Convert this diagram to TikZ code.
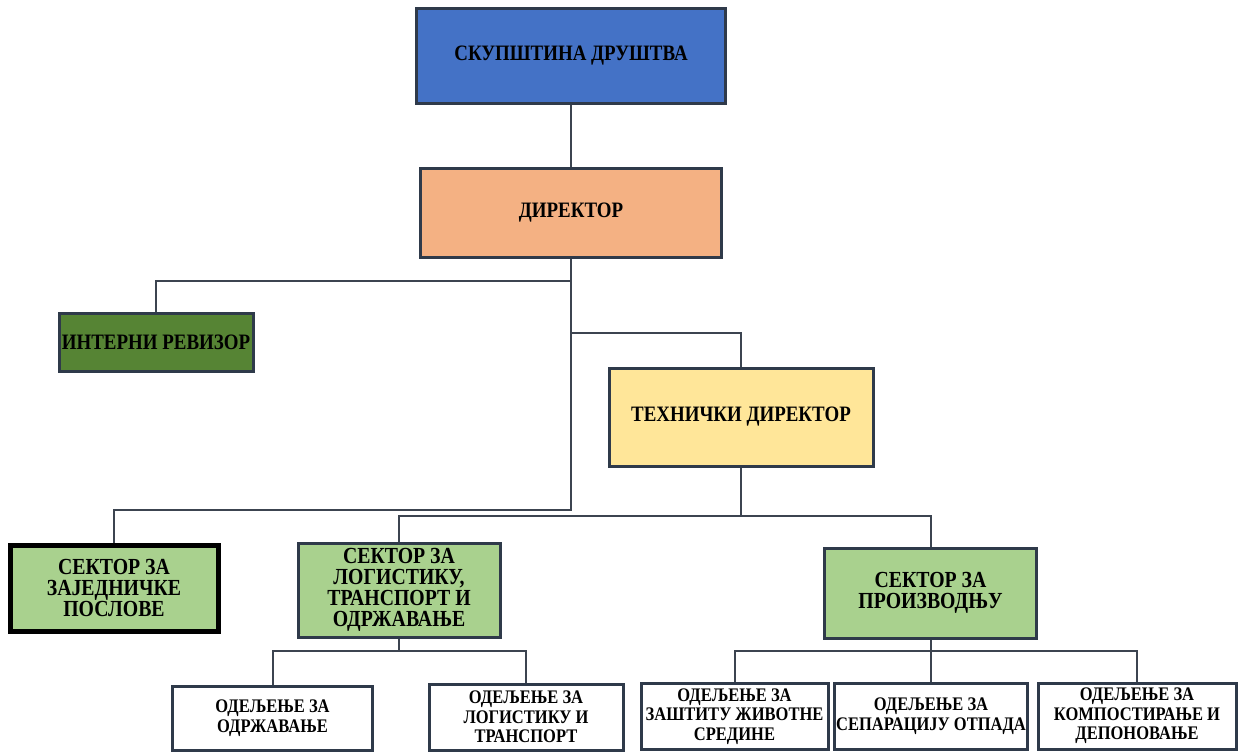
\documentclass[tikz,border=0pt]{standalone}
\usepackage{fontspec}
\setmainfont{Liberation Serif}[FakeStretch=0.86]
\usepackage{tikz}
\usetikzlibrary{%
  positioning,% wg. " of "
  calc%
}
\definecolor{frame}{RGB}{47,58,74}
\definecolor{linkc}{RGB}{60,68,80}
\definecolor{skblue}{RGB}{68,114,198}
\definecolor{dirorange}{RGB}{244,177,131}
\definecolor{revgreen}{RGB}{86,132,52}
\definecolor{tehyellow}{RGB}{255,230,153}
\definecolor{secgreen}{RGB}{169,209,142}

\begin{document}
\begin{tikzpicture}[
  x=0.5pt,y=-0.5pt,
  font=\fontsize{11}{11}\selectfont\bfseries,
  box/.style={draw=frame,line width=1.5pt,align=center,inner sep=1pt},
  sector/.style={box,fill=secgreen,font=\fontsize{11.5}{10.4}\selectfont\bfseries},
  dept/.style={box,fill=white,font=\fontsize{9.6}{9.8}\selectfont\bfseries},
  link/.style={draw=linkc,line width=1pt},
]
\useasboundingbox (0,0) rectangle (1238,751);

% upper levels
\node[box,fill=skblue,minimum width=154.5pt,minimum height=47.5pt] (sk) at (571,55.5) {СКУПШТИНА ДРУШТВА};
\node[box,fill=dirorange,minimum width=150.5pt,minimum height=44.5pt] (dir) at (571,212.5) {ДИРЕКТОР};
\node[box,fill=revgreen,minimum width=97pt,minimum height=29pt] (rev) at (156,342.5) {ИНТЕРНИ РЕВИЗОР};
\node[box,fill=tehyellow,minimum width=132pt,minimum height=49pt] (teh) at (741,417) {ТЕХНИЧКИ ДИРЕКТОР};

% sectors
\node[sector,draw=black,line width=2.5pt,minimum width=104pt,minimum height=43pt] (zaj) at (114,588) {СЕКТОР ЗА\\ЗАЈЕДНИЧКЕ\\ПОСЛОВЕ};
\node[sector,minimum width=101pt,minimum height=47pt] (log) at (399,590) {СЕКТОР ЗА\\ЛОГИСТИКУ,\\ТРАНСПОРТ И\\ОДРЖАВАЊЕ};
\node[sector,minimum width=106pt,minimum height=45pt] (pro) at (930.5,593) {СЕКТОР ЗА\\ПРОИЗВОДЊУ};

% departments
\node[dept,minimum width=100pt,minimum height=32pt] (odr) at (272.5,718) {ОДЕЉЕЊЕ ЗА\\ОДРЖАВАЊЕ};
\node[dept,minimum width=97pt,minimum height=33pt] (ltr) at (526,717) {ОДЕЉЕЊЕ ЗА\\ЛОГИСТИКУ И\\ТРАНСПОРТ};
\node[dept,minimum width=93.5pt,minimum height=33pt] (zas) at (734.5,716.5) {ОДЕЉЕЊЕ ЗА\\ЗАШТИТУ ЖИВОТНЕ\\СРЕДИНЕ};
\node[dept,minimum width=96pt,minimum height=33pt] (sep) at (931,716) {ОДЕЉЕЊЕ ЗА\\СЕПАРАЦИЈУ ОТПАДА};
\node[dept,minimum width=99pt,minimum height=33pt] (kom) at (1137,716) {ОДЕЉЕЊЕ ЗА\\КОМПОСТИРАЊЕ И\\ДЕПОНОВАЊЕ};

% junctions
\coordinate (j1) at (571,281);
\coordinate (j2) at (571,333);
\coordinate (j3) at (571,510);
\coordinate (j4) at (741,516);
\coordinate (j5) at (399,651);
\coordinate (j6) at (930.5,651);

\draw[link] (sk) -- (dir);
\draw[link] (dir.south) -- (j1) -| (rev.north);
\draw[link] (j1) -- (j2) -| (teh.north);
\draw[link] (j2) -- (j3) -| (zaj.north);
\draw[link] (teh.south) -- (j4) -| (log.north);
\draw[link] (j4) -| (pro.north);
\draw[link] (log.south) -- (j5);
\foreach \n in {odr,ltr} {
  \draw[link] (j5) -| (\n.north);
}
\draw[link] (pro.south) -- (j6);
\foreach \n in {zas,sep,kom} {
  \draw[link] (j6) -| (\n.north);
}
\end{tikzpicture}
\end{document}
